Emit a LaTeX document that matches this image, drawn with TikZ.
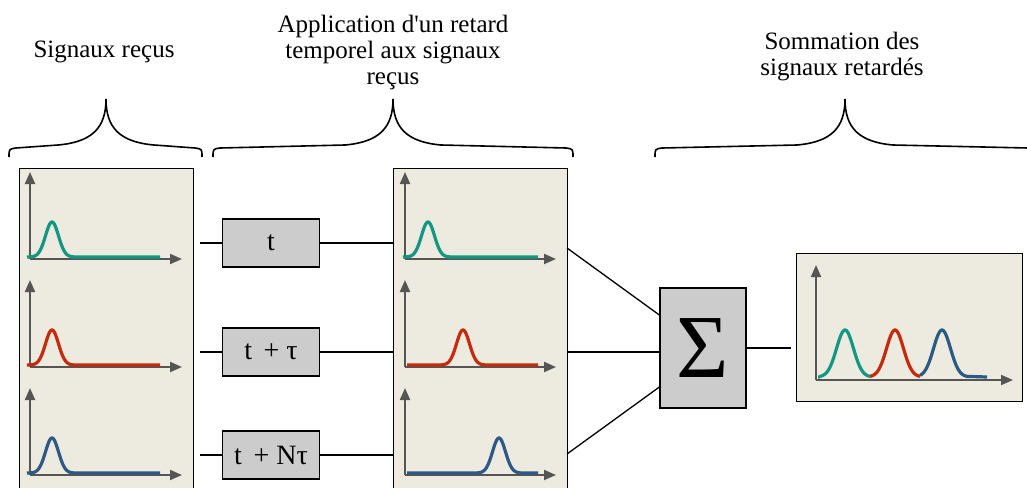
\documentclass[tikz,border=0pt]{standalone}
\usepackage{fontspec}
\setmainfont{Liberation Serif}[Ligatures=TeXOff]
\usepackage{xcolor}
\usepackage{tikz}
\usetikzlibrary{arrows.meta,positioning}
\tikzset{>=Latex}

\definecolor{panelbg}{HTML}{EDEAE0}
\definecolor{boxgray}{HTML}{CCCCCC}
\definecolor{axisgray}{HTML}{555555}
\definecolor{sigteal}{HTML}{119782}
\definecolor{sigred}{HTML}{C42A0B}
\definecolor{sigblue}{HTML}{2C5A85}

\begin{document}
\begin{tikzpicture}[x=1pt,y=-1pt,
panel/.style={rectangle, draw=black, fill=panelbg, line width=1.2pt, inner sep=0pt, anchor=north west},
delaybox/.style={rectangle, draw=black, fill=boxgray, line width=1.3pt, minimum width=97pt, minimum height=48pt, inner sep=0pt, font=\fontsize{28}{30}\selectfont},
sumbox/.style={rectangle, draw=black, fill=boxgray, line width=1.3pt, minimum width=86pt, minimum height=120pt, inner sep=0pt, font=\fontsize{90}{90}\selectfont},
caption/.style={align=center, font=\fontsize{25}{26}\selectfont},
axis/.style={axisgray, line width=2pt, -{Triangle[length=12pt,width=10pt]}},
pulse/.style={line width=3.2pt},
link/.style={draw=black, line width=1.3pt},
bracket/.style={draw=black, line width=1.6pt},
]
\useasboundingbox (0,0) rectangle (1027,487);

%Captions
\node[caption](Signaux recus) at (104,52){Signaux reçus};
\node[caption](Application retard) at (393,52){Application d'un retard\\temporel aux signaux\\reçus};
\node[caption](Sommation) at (842,57){Sommation des\\signaux retardés};

%Braces
\foreach \xa/\xt/\xb in {9/106/202, 213/393/573, 655/845/1035}
  \draw[bracket] (\xa,157) .. controls (\xa,149) .. (\xa+7,148) -- (\xt-48,145)
    .. controls (\xt-14,142) and (\xt,128) .. (\xt,99)
    .. controls (\xt,128) and (\xt+14,142) .. (\xt+48,145) -- (\xb-7,148)
    .. controls (\xb,149) .. (\xb,157);

%Nodes
\node[panel, minimum width=174pt, minimum height=340pt](Signaux entree) at (19,168){};
\node[panel, minimum width=174pt, minimum height=340pt](Signaux retardes) at (393,168){};
\node[panel, minimum width=226pt, minimum height=148pt](Signal somme) at (796,253){};

\node[delaybox](Retard 1) at (271,243){t};
\node[delaybox](Retard 2) at (271,352){t \,+ τ};
\node[delaybox](Retard N) at (271,455){t \,+ Nτ};

\node[sumbox](Somme) at (703,348){Σ};

\coordinate (Entree 1) at (200,243);
\coordinate (Entree 2) at (200,352);
\coordinate (Entree N) at (200,455);
\coordinate (Sortie 1) at (567,248);
\coordinate (Sortie N) at (567,454);
\coordinate (Sortie somme) at (791,348);

%Axes
\foreach \xa/\xb in {30/182, 405/556}
  \foreach \yb in {259,367,475}{
    \draw[axis] (\xa,\yb) -- (\xa,\yb-87);
    \draw[axis] (\xa,\yb) -- (\xb,\yb);
  }
\draw[axis] (816,380) -- (816,265);
\draw[axis] (816,380) -- (1013,380);

%Pulses
\foreach \yb/\col in {257/sigteal, 365/sigred, 473/sigblue}
  \draw[pulse, \col] (31,\yb) -- (27,\yb) plot[domain=27:77, samples=60] (\x, {\yb-35*exp(-((\x-52)/6.5)^2/2)}) -- (160,\yb);
\foreach \yb/\c/\col in {257/428/sigteal, 365/463/sigred, 473/499/sigblue}
  \draw[pulse, \col] (407,\yb) -- (\c-25,\yb) plot[domain=\c-25:\c+25, samples=60] (\x, {\yb-35*exp(-((\x-\c)/6.5)^2/2)}) -- (538,\yb);
\draw[pulse, sigteal] (818,377) -- (820,377) plot[domain=820:870, samples=60] (\x, {377-47*exp(-((\x-845)/8.5)^2/2)});
\draw[pulse, sigred] plot[domain=870:920, samples=60] (\x, {377-47*exp(-((\x-895)/8.5)^2/2)});
\draw[pulse, sigblue] plot[domain=920:967, samples=60] (\x, {377-47*exp(-((\x-942)/8.5)^2/2)}) -- (987,377);

%Lines
\draw[link] (Entree 1) -- (Retard 1);
\draw[link] (Entree 2) -- (Retard 2);
\draw[link] (Entree N) -- (Retard N);

\draw[link] (Retard 1) -- (Retard 1 -| Signaux retardes.west);
\draw[link] (Retard 2) -- (Retard 2 -| Signaux retardes.west);
\draw[link] (Retard N) -- (Retard N -| Signaux retardes.west);

\draw[link] (Sortie 1) -- ([yshift=33pt]Somme.west);
\draw[link] (Retard 2 -| Signaux retardes.east) -- (Retard 2 -| Somme.west);
\draw[link] (Sortie N) -- ([yshift=-39pt]Somme.west);
\draw[link] (Somme) -- (Sortie somme);
\end{tikzpicture}
\end{document}
